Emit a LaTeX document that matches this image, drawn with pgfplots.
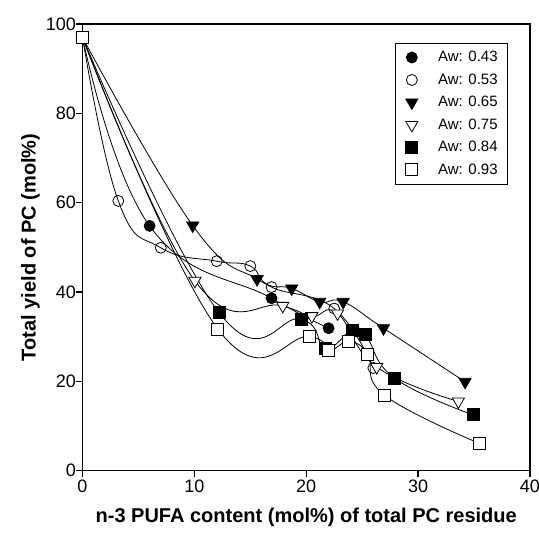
\documentclass[border=0pt]{standalone}
\usepackage{pgfplots}
\pgfplotsset{compat=1.18}
\usepackage{fontspec}
\setmainfont{Liberation Sans}

\pgfplotsset{
  curve/.style={black, line width=0.8pt, smooth, tension=0.75},
}

\begin{document}
\begin{tikzpicture}[x=1pt,y=1pt]
  \path[use as bounding box] (-82.5,-64.3) rectangle (456.5,470.7);
  \begin{axis}[
    at={(0,0)}, anchor=south west,
    scale only axis,
    width=447.5pt, height=446.7pt,
    xmin=0, xmax=40, ymin=0, ymax=100,
    xtick={0,10,20,30,40},
    ytick={0,20,40,60,80,100},
    axis line style={line width=1.6pt},
    tick style={line width=1.3pt, black},
    tick align=outside,
    major tick length=6pt,
    xtick pos=bottom, ytick pos=left,
    /pgf/number format/assume math mode=true,
    tick label style={font=\fontsize{18}{18}\selectfont},
    yticklabel style={xshift=3pt},
    xlabel={\textbf{n-3 PUFA content (mol\%) of total PC residue}},
    ylabel={\textbf{Total yield of PC (mol\%)}},
    label style={font=\fontsize{20}{20}\selectfont},
    xlabel style={at={(axis description cs:0.5,0)}, anchor=center, yshift=-47pt},
    ylabel style={at={(axis description cs:0,0.5)}, anchor=center, yshift=52pt},
    legend style={
      at={(0.698,0.957)}, anchor=north west,
      draw=black, line width=0.6pt,
      font=\fontsize{15}{15}\selectfont,
      row sep=6.5pt, inner xsep=8pt, inner ysep=6pt,
    },
    legend cell align=left,
    legend image code/.code={
      \path[draw=none, fill=none] (0pt,-2pt) rectangle (33pt,2pt);
      \draw[#1, only marks] plot coordinates {(8.7pt,0pt)};
    },
  ]
    \addplot[curve, mark=*, mark size=5.5pt, mark options={fill=black}]
      coordinates {(0,97) (6.0,54.8) (16.9,38.6) (22.0,31.9)};
    \addlegendentry{Aw: 0.43}
    \addplot[curve, mark=o, mark size=5.5pt, mark options={fill=white}]
      coordinates {(0,97) (3.2,60.4) (7.0,49.9) (12.0,46.9) (15.0,45.8)
                   (16.9,41.1) (22.5,36.3) (26.0,23.0)};
    \addlegendentry{Aw: 0.53}
    \addplot[curve, mark=triangle*, mark size=7pt,
             mark options={rotate=180, fill=black}]
      coordinates {(0,97) (9.85,54.9) (15.6,42.9) (18.7,40.8) (21.2,37.8)
                   (23.3,37.8) (26.9,31.9) (34.2,19.9)};
    \addlegendentry{Aw: 0.65}
    \addplot[curve, mark=triangle*, mark size=7pt,
             mark options={rotate=180, fill=white}]
      coordinates {(0,97) (10.05,42.5) (17.9,36.9) (20.5,34.6) (22.8,35.2)
                   (26.3,23.2) (33.6,15.5)};
    \addlegendentry{Aw: 0.75}
    \addplot[curve, mark=square*, mark size=6pt, mark options={fill=black}]
      coordinates {(0,97) (12.2,35.4) (19.6,33.9) (21.7,27.4) (24.1,31.5)
                   (25.3,30.4) (27.9,20.7) (34.9,12.5)};
    \addlegendentry{Aw: 0.84}
    \addplot[curve, mark=square*, mark size=6pt, mark options={fill=white}]
      coordinates {(0,97) (12.1,31.7) (20.3,30.0) (22.0,27.0) (23.8,28.9)
                   (25.5,26.0) (27.0,16.9) (35.5,6.1)};
    \addlegendentry{Aw: 0.93}
  \end{axis}
\end{tikzpicture}
\end{document}
